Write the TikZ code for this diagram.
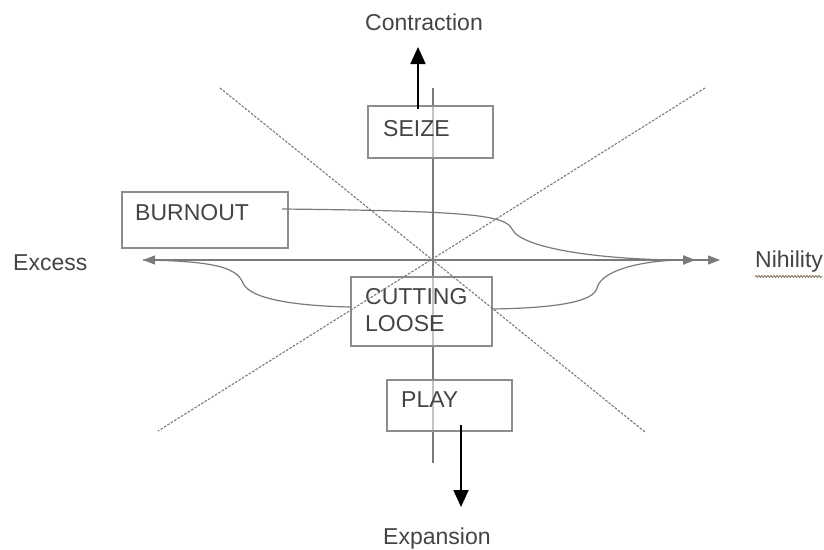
\documentclass[tikz,border=0pt]{standalone}
\usepackage{fontspec}
\setmainfont{Liberation Sans}
\usetikzlibrary{arrows.meta,decorations.pathmorphing}
\definecolor{axisgray}{HTML}{7A7A7A}
\definecolor{boxgray}{HTML}{8C8C8C}
\definecolor{txtgray}{HTML}{444444}
\definecolor{squiggle}{HTML}{8A7A60}
\begin{document}
\begin{tikzpicture}[x=1pt,y=-1pt,
  axis/.style={draw=axisgray,line width=1.2pt},
  diag/.style={draw=axisgray,line width=1.1pt,dash pattern=on 2.5pt off 1.5pt},
  stagebox/.style={draw=boxgray,line width=1.3pt,fill=white,fill opacity=0.55,inner sep=0pt},
  lbl/.style={text=txtgray,font=\fontsize{23}{27}\selectfont,inner sep=0pt,anchor=base west},
  flow/.style={draw=axisgray,line width=1.2pt},
  gtip/.tip={Triangle[length=12pt,width=9pt]},
  btip/.tip={Triangle[length=17pt,width=15pt]},
  push/.style={draw=black,line width=1.8pt,-btip}]
\useasboundingbox (0,0) rectangle (824,549);

% axes
\coordinate (o) at (433,260);
\coordinate (vtop) at (433,88);
\coordinate (vbot) at (433,463);
\coordinate (hleft) at (143,260);
\coordinate (hright) at (720,260);
\coordinate (hmid) at (695,260);
\draw[axis] (vtop) -- (vbot);
\draw[axis,gtip-gtip] (hleft) -- (hright);

% stage boxes
\node[stagebox,minimum width=125pt,minimum height=52pt] (seize) at (430.5,132) {};
\node[stagebox,minimum width=166pt,minimum height=56pt] (burnout) at (205,220) {};
\node[stagebox,minimum width=141pt,minimum height=69pt] (cutting) at (421.5,311.5) {};
\node[stagebox,minimum width=125pt,minimum height=51pt] (play) at (449.5,405.5) {};

\node[lbl] (seizetxt) at (383,136) {SEIZE};
\node[lbl] (burnouttxt) at (135,220) {BURNOUT};
\node[lbl] (cuttingtxt) at (365,304) {CUTTING};
\node[lbl] (loosetxt) at (365,331) {LOOSE};
\node[lbl] (playtxt) at (401,407) {PLAY};

% diagonals
\coordinate (dtl) at (220,88);
\coordinate (dbr) at (645,432);
\coordinate (dtr) at (705,88);
\coordinate (dbl) at (158,431);
\draw[diag] (dtl) -- (dbr);
\draw[diag] (dtr) -- (dbl);

% flows towards the poles
\coordinate (bstart) at (282,209);
\coordinate (cleft) at (351,307);
\coordinate (cright) at (492,309);
\draw[flow,-gtip] (bstart) .. controls (470,211) and (505,215) .. (512,229)
  .. controls (522,250) and (610,260) .. (hmid);
\draw[flow,-gtip] (cright) .. controls (560,308) and (594,301) .. (597,288)
  .. controls (602,268) and (650,260) .. (hmid);
\draw[flow] (hleft) .. controls (220,261) and (237,269) .. (243,283)
  .. controls (250,300) and (300,306) .. (cleft);

% labels of the poles
\node[lbl] (excess) at (13,270) {Excess};
\node[lbl] (nihility) at (755,267) {Nihility};
\draw[squiggle,line width=0.9pt,decorate,decoration={snake,amplitude=1pt,segment length=3pt}]
  (nihility.south west) ++(0,4.5) -- ++(67,0);
\node[lbl] (contraction) at (365,30) {Contraction};
\node[lbl] (expansion) at (383,544) {Expansion};

% vertical pushes
\coordinate (upstart) at (418,109);
\coordinate (uptip) at (418,47);
\coordinate (dnstart) at (461,425);
\coordinate (dntip) at (461,507);
\draw[push] (upstart) -- (uptip);
\draw[push] (dnstart) -- (dntip);
\end{tikzpicture}
\end{document}
